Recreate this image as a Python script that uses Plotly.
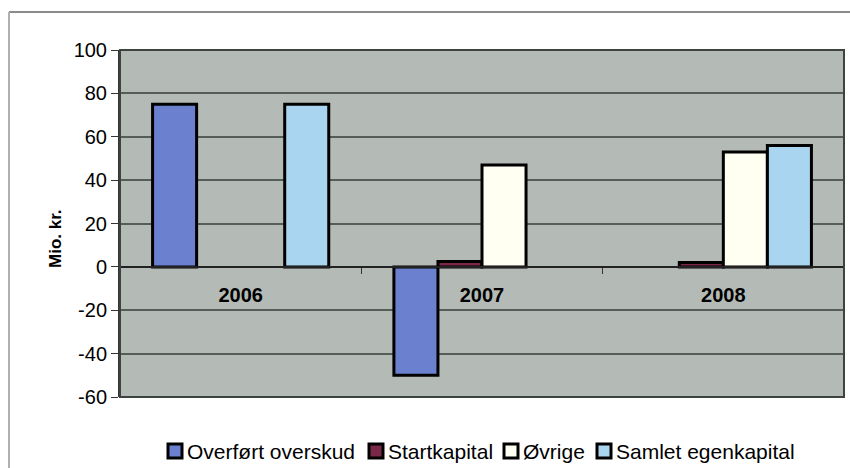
import plotly.graph_objects as go

years = ["2006", "2007", "2008"]
overfort = [75, -50, None]
startkapital = [None, 2.5, 2]
ovrige = [None, 47, 53]
samlet = [75, None, 56]
y_ticks = [-60, -40, -20, 0, 20, 40, 60, 80, 100]
y_labels = ["-60", "-40", "-20", "0", "20", "40", "60", "80", "100"]
series_names = ["Overført overskud", "Startkapital", "Øvrige", "Samlet egenkapital"]
series_colors = ["#6b81d0", "#7a2848", "#fffff2", "#a9d5f0"]
series_values = [overfort, startkapital, ovrige, samlet]

W, H = 850, 468
L, R, T, B = 120, 6, 50, 71
pw, ph = W - L - R, H - T - B


def px_x(p):
    return (p - L) / pw


def px_y(p):
    return (H - B - p) / ph


font = "Liberation Sans, Arial, sans-serif"

fig = go.Figure()
for name, vals, col in zip(series_names, series_values, series_colors):
    fig.add_trace(go.Bar(
        x=years, y=vals, name=name, showlegend=False,
        marker=dict(color=col, line=dict(color="black", width=3)),
    ))

# custom legend (positions in pixels, matching the reference layout)
legend_sym_x = [167, 368, 503, 596]
legend_y = 451
shapes = [
    dict(type="rect", xref="paper", yref="paper", x0=0, x1=1, y0=0, y1=1,
         line=dict(color="#3d4440", width=2), layer="above"),
    dict(type="line", xref="paper", yref="paper",
         x0=px_x(9), x1=px_x(W), y0=px_y(12), y1=px_y(12),
         line=dict(color="#8a8a8a", width=2)),
    dict(type="line", xref="paper", yref="paper",
         x0=px_x(9), x1=px_x(9), y0=px_y(12), y1=px_y(H),
         line=dict(color="#b0b0b0", width=2)),
]
annotations = []
for sx, name, col in zip(legend_sym_x, series_names, series_colors):
    shapes.append(dict(
        type="rect", xref="paper", yref="paper",
        x0=px_x(sx + 1), x1=px_x(sx + 15),
        y0=px_y(legend_y + 7), y1=px_y(legend_y - 7),
        fillcolor=col, line=dict(color="black", width=3),
    ))
    annotations.append(dict(
        xref="paper", yref="paper", x=px_x(sx + 18), y=px_y(legend_y),
        xanchor="left", yanchor="middle", showarrow=False,
        text=name, font=dict(size=21, family=font, color="black"),
    ))

annotations.append(dict(
    xref="paper", yref="paper", x=px_x(55), y=px_y(239),
    xanchor="center", yanchor="middle", showarrow=False, textangle=-90,
    text="Mio. kr.", font=dict(size=17, family=font, color="black", weight="bold"),
))

zero_pos = (0 - (-60)) / 160.0

fig.update_layout(
    width=W, height=H,
    margin=dict(l=L, r=R, t=T, b=B, autoexpand=False),
    paper_bgcolor="white",
    plot_bgcolor="#b4bbb6",
    barmode="group",
    bargap=0.27,
    bargroupgap=0,
    font=dict(family=font, color="black"),
    showlegend=False,
    xaxis=dict(
        type="category",
        anchor="free", position=zero_pos,
        showline=True, linecolor="#222", linewidth=2,
        ticks="outside", tickson="boundaries", ticklen=6, tickcolor="#333",
        tickfont=dict(size=20, family=font, weight="bold"),
        ticklabelstandoff=10,
        showgrid=False,
    ),
    yaxis=dict(
        range=[-60, 100],
        tickmode="array", tickvals=y_ticks, ticktext=y_labels,
        showline=True, linecolor="#333", linewidth=2,
        ticks="outside", ticklen=7, tickcolor="#333",
        tickfont=dict(size=20, family=font),
        showgrid=True, gridcolor="#555d58", gridwidth=1.5,
        zeroline=False,
    ),
    shapes=shapes,
    annotations=annotations,
)

fig.write_html(
    "out.html",
    config={"displayModeBar": False},
    post_script="document.body.style.margin='0';document.body.style.overflow='hidden';",
)
